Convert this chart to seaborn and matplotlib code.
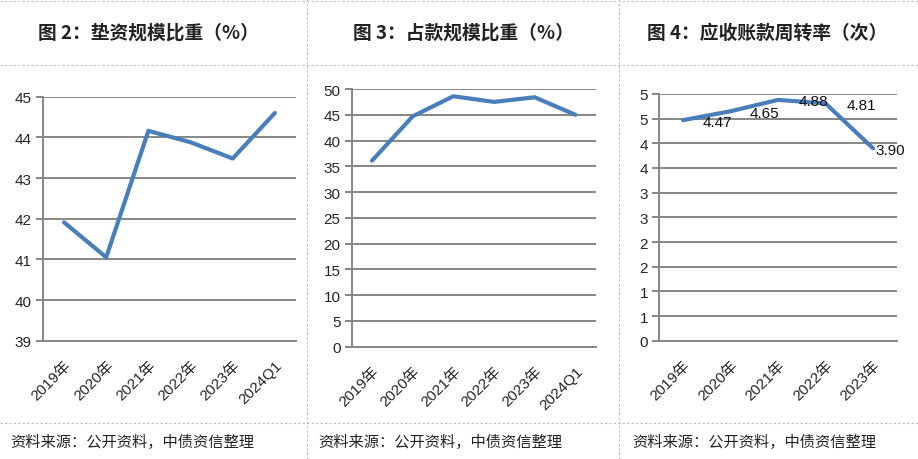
import numpy as np
import pandas as pd
import seaborn as sns
import matplotlib.pyplot as plt
from matplotlib.lines import Line2D
from matplotlib.ticker import FixedLocator, FuncFormatter

# 数据
years6 = ['2019年', '2020年', '2021年', '2022年', '2023年', '2024Q1']
years5 = ['2019年', '2020年', '2021年', '2022年', '2023年']
advance_ratio = [41.91, 41.05, 44.16, 43.88, 43.48, 44.60]      # 垫资规模比重
occupy_ratio = [36.1, 44.7, 48.6, 47.5, 48.4, 45.0]             # 占款规模比重
turnover = [4.47, 4.65, 4.88, 4.81, 3.90]                        # 应收账款周转率
turnover_labels = ['4.47', '4.65', '4.88', '4.81', '3.90']

titles = ['图 2：垫资规模比重（%）', '图 3：占款规模比重（%）', '图 4：应收账款周转率（次）']
source = '资料来源：公开资料，中债资信整理'

sns.set_style('white')
plt.rcParams['font.family'] = ['Liberation Sans', 'Noto Sans CJK SC']

line_color = '#4A7EBB'
grid_color = '#868686'

fig = plt.figure(figsize=(9.18, 4.6), dpi=100)

ax1 = fig.add_axes([0.0468, 0.2572, 0.2756, 0.5304])
ax2 = fig.add_axes([0.3831, 0.2441, 0.2658, 0.5602])
ax3 = fig.add_axes([0.7182, 0.2572, 0.2586, 0.5363])


def draw(ax, cats, vals, ylim, step, fmt=None):
    df = pd.DataFrame({'cat': cats, 'val': vals})
    sns.lineplot(data=df, x='cat', y='val', ax=ax, color=line_color, lw=3.0,
                 sort=False, zorder=3)
    n = len(cats)
    ax.set_xlim(-0.5, n - 0.5)
    ax.set_ylim(*ylim)
    ax.set_xlabel('')
    ax.set_ylabel('')
    yt = np.arange(ylim[0], ylim[1] + step / 2, step)
    ax.set_yticks(yt)
    if fmt is not None:
        ax.yaxis.set_major_formatter(FuncFormatter(fmt))
    for y in yt[1:]:
        ax.axhline(y, color=grid_color, lw=1.4, zorder=1)
    ax.set_xticks(range(n))
    ax.set_xticklabels(cats, rotation=45, ha='right', va='top',
                       rotation_mode='anchor', fontsize=11)
    ax.xaxis.set_minor_locator(FixedLocator(np.arange(-0.5, n, 1.0)))
    ax.tick_params(axis='x', which='major', length=0, pad=12)
    ax.tick_params(axis='x', which='minor', length=5, width=1.4,
                   color=grid_color, direction='out')
    ax.tick_params(axis='y', length=5, width=1.4, color=grid_color,
                   direction='out', pad=3, labelsize=11, left=True)
    for s in ['top', 'right']:
        ax.spines[s].set_visible(False)
    for s in ['left', 'bottom']:
        ax.spines[s].set_color(grid_color)
        ax.spines[s].set_linewidth(1.4)


draw(ax1, years6, advance_ratio, (39, 45), 1)
draw(ax2, years6, occupy_ratio, (0, 50), 5)
draw(ax3, years5, turnover, (0, 5), 0.5,
     fmt=lambda v, p: str(int(np.floor(v + 0.5))))

# 数据标签
label_dx = [14, 14, 15, 15, 2]
for i, (v, t) in enumerate(zip(turnover, turnover_labels)):
    ax3.annotate(t, (i, v), xytext=(label_dx[i], -1), textcoords='offset points',
                 ha='left', va='center', fontsize=11, color='#111111', zorder=4)

# 标题与来源
centers = [148, 463, 767]
src_x = [10, 318, 632]
for c, t in zip(centers, titles):
    fig.text(c / 918, 1 - 33 / 460, t, ha='center', va='center', fontsize=13.5,
             fontweight='bold', family=['Noto Sans CJK SC', 'DejaVu Sans'],
             color='#222222')
for x in src_x:
    fig.text(x / 918, 1 - 442 / 460, source, ha='left', va='center', fontsize=11,
             family=['Noto Sans CJK SC', 'DejaVu Sans'], color='#222222')

# 虚线分隔
dash = dict(color='#BBBBBB', lw=0.8, linestyle=(0, (2, 2)), transform=fig.transFigure)
for yy in [2, 66, 424]:
    fig.add_artist(Line2D([0, 1], [1 - yy / 460] * 2, **dash))
for xx in [307, 619]:
    fig.add_artist(Line2D([xx / 918] * 2, [0, 1], **dash))

fig.savefig('out.png', dpi=100)
